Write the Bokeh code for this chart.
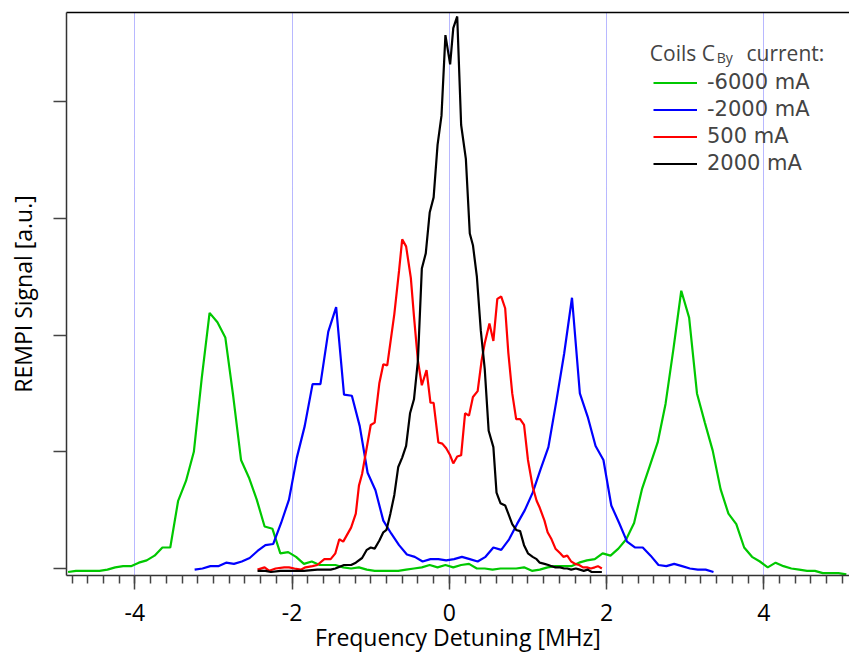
from bokeh.plotting import figure
from bokeh.models import FixedTicker, Legend, LegendItem, Label, LinearAxis, Range1d
from bokeh.embed import file_html
from bokeh.resources import INLINE

# ---------------- data ----------------
green_x = [-4.85, -4.75, -4.65, -4.55, -4.45, -4.35, -4.25, -4.15, -4.05, -3.95,
           -3.85, -3.75, -3.65, -3.55, -3.45, -3.35, -3.25, -3.15, -3.05, -2.95,
           -2.85, -2.75, -2.65, -2.55, -2.45, -2.35, -2.25, -2.15, -2.05, -1.95,
           -1.85, -1.75, -1.65, -1.55, -1.45, -1.35, -1.25, -1.15, -1.05, -0.95,
           -0.85, -0.75, -0.65, -0.55, -0.45, -0.35, -0.25, -0.15, -0.05, 0.05,
           0.15, 0.25, 0.35, 0.45, 0.55, 0.65, 0.75, 0.85, 0.95, 1.05,
           1.15, 1.25, 1.35, 1.45, 1.55, 1.65, 1.75, 1.85, 1.95, 2.05,
           2.15, 2.25, 2.35, 2.45, 2.55, 2.65, 2.75, 2.85, 2.95, 3.05,
           3.15, 3.25, 3.35, 3.45, 3.55, 3.65, 3.75, 3.85, 3.95, 4.05,
           4.15, 4.25, 4.35, 4.45, 4.55, 4.65, 4.75, 4.85, 4.95, 5.05]
green_y = [-0.03, -0.02, -0.02, -0.02, -0.02, -0.01, 0.01, 0.02, 0.02, 0.05,
           0.07, 0.11, 0.18, 0.18, 0.58, 0.75, 1.00, 1.63, 2.19, 2.11,
           1.98, 1.48, 0.93, 0.78, 0.59, 0.36, 0.34, 0.13, 0.14, 0.10,
           0.04, 0.06, 0.03, 0.03, 0.03, 0.01, 0.00, 0.01, -0.01, -0.02,
           -0.02, -0.02, -0.02, -0.01, 0.00, 0.01, 0.03, 0.01, 0.03, 0.01,
           0.03, 0.04, 0.00, 0.00, -0.01, 0.00, 0.00, 0.00, 0.01, -0.02,
           -0.01, 0.01, 0.02, 0.02, 0.02, 0.05, 0.07, 0.08, 0.13, 0.11,
           0.17, 0.25, 0.39, 0.68, 0.88, 1.08, 1.41, 1.88, 2.38, 2.15,
           1.50, 1.25, 1.01, 0.68, 0.47, 0.38, 0.18, 0.10, 0.06, 0.01,
           0.05, 0.02, 0.00, -0.01, -0.02, -0.02, -0.04, -0.04, -0.04, -0.05]

blue_x = [-3.24, -3.14, -3.04, -2.94, -2.84, -2.74, -2.64, -2.54, -2.44, -2.34,
          -2.24, -2.14, -2.04, -1.94, -1.84, -1.74, -1.64, -1.54, -1.44, -1.34,
          -1.24, -1.14, -1.04, -0.94, -0.84, -0.74, -0.64, -0.54, -0.44, -0.34,
          -0.24, -0.14, -0.04, 0.06, 0.16, 0.26, 0.36, 0.46, 0.56, 0.66,
          0.76, 0.86, 0.96, 1.06, 1.16, 1.26, 1.36, 1.46, 1.56, 1.66,
          1.76, 1.86, 1.96, 2.06, 2.16, 2.26, 2.36, 2.46, 2.56, 2.66,
          2.76, 2.86, 2.96, 3.06, 3.16, 3.26, 3.36]
blue_y = [-0.01, 0.00, 0.02, 0.02, 0.05, 0.04, 0.06, 0.09, 0.15, 0.20,
          0.21, 0.39, 0.59, 0.95, 1.22, 1.58, 1.58, 2.03, 2.24, 1.49,
          1.48, 1.22, 0.82, 0.67, 0.41, 0.30, 0.20, 0.12, 0.10, 0.06,
          0.08, 0.08, 0.07, 0.08, 0.10, 0.08, 0.06, 0.10, 0.18, 0.16,
          0.25, 0.38, 0.50, 0.65, 0.85, 1.04, 1.43, 1.84, 2.32, 1.50,
          1.30, 1.05, 0.93, 0.54, 0.39, 0.23, 0.18, 0.18, 0.11, 0.03,
          0.02, 0.04, 0.02, 0.00, -0.01, -0.01, -0.03]

red_x = [-2.44, -2.35, -2.29, -2.21, -2.10, -2.04, -1.97, -1.89, -1.83, -1.74,
         -1.68, -1.59, -1.51, -1.45, -1.40, -1.35, -1.25, -1.19, -1.15, -1.11,
         -1.00, -0.95, -0.89, -0.84, -0.79, -0.70, -0.64, -0.60, -0.55, -0.49,
         -0.45, -0.40, -0.35, -0.29, -0.24, -0.20, -0.14, -0.09, -0.04, 0.01,
         0.05, 0.10, 0.15, 0.20, 0.25, 0.30, 0.36, 0.41, 0.45, 0.51,
         0.56, 0.61, 0.66, 0.71, 0.75, 0.80, 0.85, 0.90, 0.95, 1.00,
         1.06, 1.11, 1.15, 1.21, 1.25, 1.30, 1.35, 1.41, 1.45, 1.50,
         1.55, 1.60, 1.65, 1.70, 1.75, 1.80, 1.85, 1.89, 1.94]
red_y = [-0.01, 0.01, -0.02, 0.00, 0.01, 0.01, 0.00, -0.01, 0.01, 0.02,
         0.03, 0.08, 0.08, 0.13, 0.25, 0.23, 0.35, 0.47, 0.71, 0.81,
         1.23, 1.25, 1.59, 1.75, 1.74, 2.18, 2.55, 2.82, 2.76, 2.49,
         2.16, 1.78, 1.57, 1.70, 1.42, 1.42, 1.08, 1.07, 1.03, 0.97,
         0.90, 0.96, 0.97, 1.33, 1.31, 1.47, 1.52, 1.78, 1.93, 2.10,
         1.95, 2.31, 2.33, 2.23, 1.85, 1.50, 1.28, 1.28, 1.23, 0.93,
         0.70, 0.58, 0.52, 0.41, 0.31, 0.25, 0.17, 0.13, 0.10, 0.11,
         0.06, 0.04, 0.03, 0.01, 0.01, 0.00, 0.01, 0.02, 0.00]

black_x = [-2.44, -2.34, -2.27, -2.15, -1.98, -1.85, -1.68, -1.51, -1.45, -1.34,
           -1.25, -1.19, -1.11, -1.05, -1.00, -0.95, -0.89, -0.84, -0.80, -0.75,
           -0.70, -0.65, -0.60, -0.55, -0.50, -0.45, -0.40, -0.35, -0.30, -0.25,
           -0.20, -0.15, -0.10, -0.05, 0.01, 0.05, 0.10, 0.15, 0.21, 0.26,
           0.30, 0.35, 0.40, 0.45, 0.50, 0.56, 0.60, 0.65, 0.71, 0.75,
           0.80, 0.85, 0.90, 0.95, 1.00, 1.06, 1.11, 1.15, 1.21, 1.26,
           1.30, 1.35, 1.41, 1.46, 1.50, 1.55, 1.61, 1.66, 1.71, 1.76,
           1.81, 1.86, 1.94]
black_y = [-0.02, -0.02, -0.03, -0.02, -0.02, -0.02, -0.01, -0.01, 0.00, 0.03,
           0.03, 0.05, 0.09, 0.16, 0.18, 0.17, 0.24, 0.31, 0.33, 0.47,
           0.63, 0.87, 0.95, 1.05, 1.33, 1.45, 1.78, 2.57, 2.70, 3.05,
           3.18, 3.63, 3.88, 4.57, 4.32, 4.63, 4.73, 3.80, 3.51, 2.87,
           2.77, 2.50, 2.04, 1.71, 1.18, 1.04, 0.65, 0.56, 0.54, 0.47,
           0.38, 0.33, 0.32, 0.20, 0.13, 0.10, 0.08, 0.05, 0.04, 0.03,
           0.02, 0.01, 0.01, 0.00, 0.00, -0.01, 0.00, -0.01, -0.02, -0.01,
           -0.03, -0.03, -0.03]

series_labels = ["-6000 mA", "-2000 mA", "500 mA", "2000 mA"]
x_major_ticks = [-4, -2, 0, 2, 4]
y_major_ticks = [0, 1, 2, 3, 4]

FONT = "Open Sans"
LEG_FONT = "DejaVu Sans"

# ---------------- figure ----------------
p = figure(width=849, height=655, output_backend="svg", toolbar_location=None,
           x_range=Range1d(-4.87, 5.09), y_range=Range1d(-0.06, 4.764),
           min_border_left=66, min_border_right=0, min_border_top=12,
           min_border_bottom=80)
p.outline_line_color = None
p.background_fill_color = "white"
p.border_fill_color = "white"

minor = [round(-4.8 + 0.2 * i, 1) for i in range(50)]

xa = p.below[0]
xa.ticker = FixedTicker(ticks=x_major_ticks, minor_ticks=minor)
xa.major_label_overrides = {t: str(t) for t in x_major_ticks}
xa.major_tick_out = 14
xa.major_tick_in = 0
xa.minor_tick_out = 8
xa.minor_tick_in = 0
xa.major_tick_line_color = "#444444"
xa.minor_tick_line_color = "#444444"
xa.major_tick_line_width = 1.5
xa.minor_tick_line_width = 1.5
xa.axis_line_color = "#333333"
xa.axis_line_width = 1.5
xa.major_label_text_font = FONT
xa.major_label_text_font_size = "23px"
xa.major_label_text_color = "black"
xa.major_label_text_line_height = 1.0
xa.major_label_standoff = 14
xa.axis_label = "Frequency Detuning [MHz]"
xa.axis_label_text_font = FONT
xa.axis_label_text_font_size = "23px"
xa.axis_label_text_font_style = "normal"
xa.axis_label_text_color = "black"
xa.axis_label_text_line_height = 1.0
xa.axis_label_standoff = -3

ya = p.left[0]
ya.ticker = FixedTicker(ticks=y_major_ticks, minor_ticks=[])
ya.major_tick_out = 13
ya.major_tick_in = 0
ya.minor_tick_out = 0
ya.minor_tick_in = 0
ya.major_tick_line_color = "#444444"
ya.major_tick_line_width = 1.5
ya.axis_line_color = "#333333"
ya.axis_line_width = 1.5
ya.major_label_text_font_size = "1px"
ya.major_label_text_color = None
ya.major_label_standoff = 0
ya.axis_label = "REMPI Signal [a.u.]"
ya.axis_label_text_font = FONT
ya.axis_label_text_font_size = "23px"
ya.axis_label_text_font_style = "normal"
ya.axis_label_text_color = "black"
ya.axis_label_standoff = 15

top = LinearAxis(ticker=FixedTicker(ticks=[], minor_ticks=[]),
                 axis_line_color="black", axis_line_width=1.5,
                 major_tick_out=0, major_tick_in=0, minor_tick_out=0, minor_tick_in=0,
                 major_label_standoff=0, major_label_text_font_size="1px",
                 major_label_text_color=None)
p.add_layout(top, "above")

p.xgrid.grid_line_color = "#7070ff"
p.xgrid.grid_line_dash = "1 1"
p.xgrid.grid_line_width = 1
p.ygrid.grid_line_color = None

r_g = p.line(green_x, green_y, line_color="#00c800", line_width=2.2)
r_b = p.line(blue_x, blue_y, line_color="#0000ff", line_width=2.2)
r_r = p.line(red_x, red_y, line_color="#ff0000", line_width=2.2)
r_k = p.line(black_x, black_y, line_color="#000000", line_width=2.2)

legend = Legend(items=[LegendItem(label=series_labels[0], renderers=[r_g]),
                       LegendItem(label=series_labels[1], renderers=[r_b]),
                       LegendItem(label=series_labels[2], renderers=[r_r]),
                       LegendItem(label=series_labels[3], renderers=[r_k])],
                location=(587, 398.5), label_text_font=LEG_FONT, label_text_font_size="21px",
                glyph_width=44, glyph_height=27, label_height=27, spacing=0,
                padding=0, margin=0, border_line_color=None,
                background_fill_alpha=0, label_standoff=10)
p.add_layout(legend)

p.add_layout(Label(x=2.55, y=4.42, text="Coils C", text_font=FONT,
                   text_font_size="21px", text_baseline="alphabetic"))
p.add_layout(Label(x=3.40, y=4.375, text="By", text_font=FONT,
                   text_font_size="14px", text_baseline="alphabetic"))
p.add_layout(Label(x=3.78, y=4.42, text="current:", text_font=FONT,
                   text_font_size="21px", text_baseline="alphabetic"))

open("out.html", "w").write(file_html(p, INLINE))
